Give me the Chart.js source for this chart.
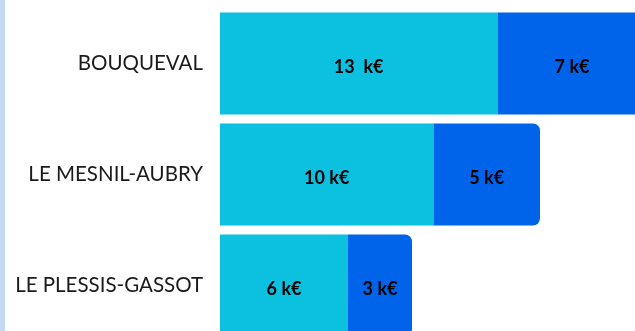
<!DOCTYPE html>
<html>
<head>
<meta charset="utf-8">
<script src="https://cdn.jsdelivr.net/npm/chart.js@4/dist/chart.umd.min.js"></script>
<style>
  html, body { margin: 0; padding: 0; overflow: hidden; background: #fff; }
  #strip { position: absolute; left: 0; top: 0; width: 5px; height: 100%; background: #c4d9f6; }
  #wrap { position: absolute; left: 0; top: 0; width: 700px; height: 350px; }
</style>
</head>
<body>
<div id="wrap"><canvas id="budget"></canvas></div>
<div id="strip"></div>
<script>
const communes = ['BOUQUEVAL', 'LE MESNIL-AUBRY', 'LE PLESSIS-GASSOT'];
const partA = [13, 10, 6];
const partB = [7, 5, 3];
const labelsA = ['13  k€', '10 k€', '6 k€'];
const labelsB = ['7 k€', '5 k€', '3 k€'];

// writes the k€ amount in the middle of each segment
const segmentLabels = {
    id: 'segmentLabels',
    afterDatasetsDraw(chart) {
        const ctx = chart.ctx;
        const texts = [labelsA, labelsB];
        ctx.save();
        ctx.font = "bold 18px Lato, sans-serif";
        ctx.fillStyle = '#000';
        ctx.textAlign = 'center';
        ctx.textBaseline = 'middle';
        chart.data.datasets.forEach((ds, d) => {
            chart.getDatasetMeta(d).data.forEach((bar, i) => {
                const p = bar.getProps(['x', 'y', 'base'], true);
                ctx.fillText(texts[d][i], (p.x + p.base) / 2, p.y + 4);
            });
        });
        ctx.restore();
    }
};

const ctx = document.getElementById('budget').getContext('2d');

new Chart(ctx, {
    type: 'bar',
    data: {
        labels: communes,
        datasets: [{
            data: partA,
            backgroundColor: '#0cc0df',
            borderRadius: 0,
            categoryPercentage: 1,
            barPercentage: 0.92
        }, {
            data: partB,
            backgroundColor: '#0064ea',
            borderRadius: 7,
            categoryPercentage: 1,
            barPercentage: 0.92
        }]
    },
    options: {
        indexAxis: 'y',
        responsive: true,
        maintainAspectRatio: false,
        animation: false,
        layout: { padding: { top: 8, bottom: 9, left: 0, right: 0 } },
        plugins: {
            legend: { display: false },
            tooltip: { enabled: false }
        },
        scales: {
            x: {
                stacked: true,
                display: false,
                min: 0,
                max: 22.5
            },
            y: {
                stacked: true,
                grid: { display: false, drawTicks: false },
                border: { display: false },
                afterFit: s => {
                    s.width = 220;
                    s.paddingTop = 0;
                    s.paddingBottom = 0;
                },
                ticks: {
                    color: '#1a1a1a',
                    padding: 17,
                    font: { family: 'Lato, sans-serif', size: 20.5 }
                }
            }
        }
    },
    plugins: [segmentLabels]
});
</script>
</body>
</html>
